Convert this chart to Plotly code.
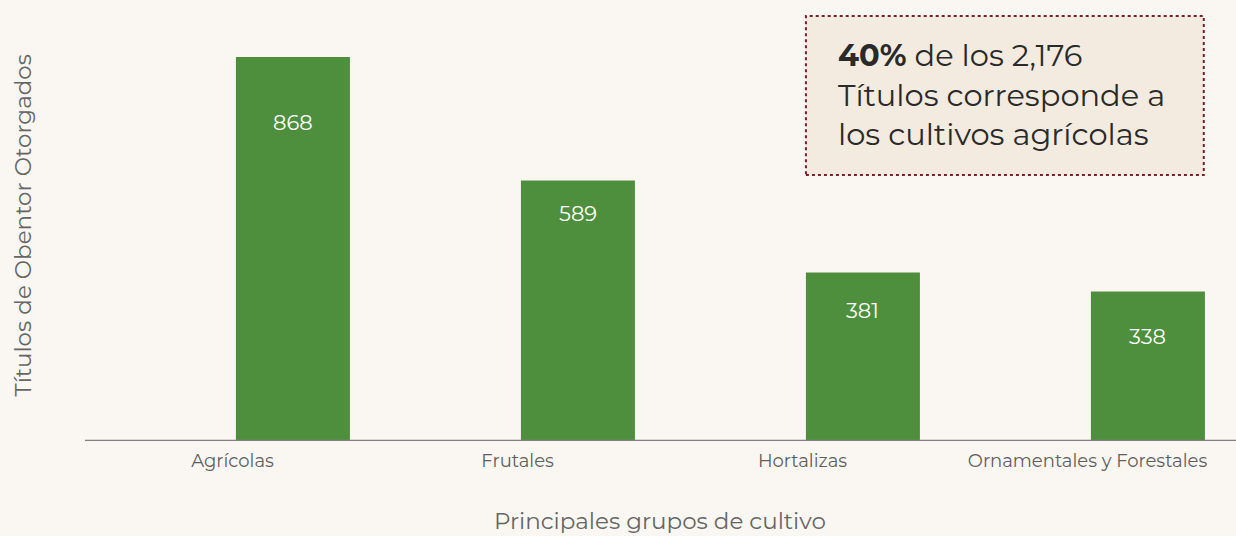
import plotly.graph_objects as go

categories = ["Agrícolas", "Frutales", "Hortalizas", "Ornamentales y Forestales"]
values = [868, 589, 381, 338]
label_y = [719, 515, 294, 237]  # vertical position of the value labels (data units)

FONT = "Montserrat, Noto Sans, sans-serif"
BG = "#faf7f2"
BAR = "#4e8f3d"

fig = go.Figure()
fig.add_trace(go.Bar(
    x=categories, y=values,
    marker=dict(color=BAR, line=dict(width=0)),
    offset=0.012, width=0.4,
    hoverinfo="x+y",
))

for c, v, ly in zip(categories, values, label_y):
    fig.add_annotation(
        x=c, y=ly, xref="x", yref="y", text=str(v), showarrow=False,
        xshift=0.212 * 285, font=dict(family=FONT, size=21, color="#ffffff"),
        yanchor="middle", xanchor="center",
    )

# baseline (extends slightly past the plot area, as in the original)
fig.add_shape(type="line", xref="paper", yref="y", x0=-0.0044, x1=1.0053, y0=0, y1=0,
              line=dict(color="#7f7f7f", width=2.5))

# callout box
fig.add_shape(type="rect", xref="paper", yref="paper",
              x0=0.628, x1=0.977, y0=0.617, y1=0.986,
              fillcolor="#f3ebe0", line=dict(color="#7b1f2e", width=2, dash="dot"),
              layer="below")
fig.add_annotation(
    xref="paper", yref="paper", x=0.654, y=0.803, xanchor="left", yanchor="middle",
    align="left", showarrow=False,
    text="<b>40%</b> de los 2,176<br>Títulos corresponde a<br>los cultivos agrícolas",
    font=dict(family=FONT, size=30.5, color="#2a2a2a"),
)

# axis titles
fig.add_annotation(
    xref="paper", yref="paper", x=-0.0596, y=0.5, textangle=-90, showarrow=False,
    text="Títulos de Obentor Otorgados", xanchor="center", yanchor="middle",
    font=dict(family=FONT, size=23, color="#666666"),
)
fig.add_annotation(
    xref="paper", yref="paper", x=0.5, y=-0.1856, showarrow=False,
    text="Principales grupos de cultivo", xanchor="center", yanchor="middle",
    font=dict(family=FONT, size=23, color="#666666"),
)

fig.update_layout(
    width=1236, height=536,
    margin=dict(l=90, r=6, t=10, b=95),
    paper_bgcolor=BG, plot_bgcolor=BG,
    showlegend=False,
    font=dict(family=FONT, color="#666666"),
    xaxis=dict(showline=False, ticks="", ticklabelstandoff=7,
               tickfont=dict(family=FONT, size=18, color="#5f5f5f"),
               showgrid=False, zeroline=False),
    yaxis=dict(range=[0, 974.2], showticklabels=False, showgrid=False,
               zeroline=False, ticks="", showline=False),
)

fig.write_html(
    "out.html",
    config={"displayModeBar": False},
    post_script="document.body.style.margin='0';document.body.style.padding='0';"
                "document.body.style.overflow='hidden';document.body.style.background='#faf7f2';",
)
